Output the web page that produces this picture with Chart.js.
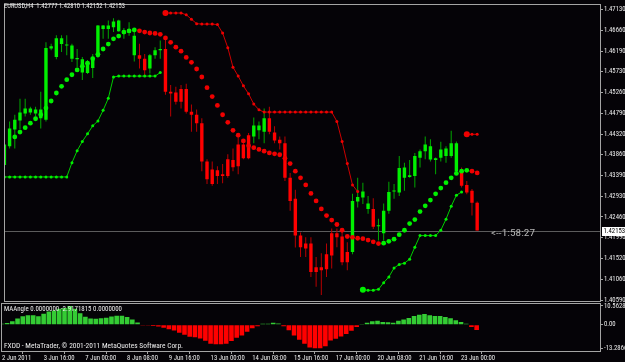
<!DOCTYPE html>
<html><head><meta charset="utf-8">
<script src="https://cdn.jsdelivr.net/npm/chart.js@4.4.1/dist/chart.umd.min.js"></script>
<style>
html,body{margin:0;padding:0;background:#050307;width:625px;height:362px;overflow:hidden;}
#w1{position:absolute;left:0;top:0;width:625px;height:306px;}
#w2{position:absolute;left:0;top:302px;width:625px;height:60px;}
</style></head><body>
<div id="w1"><canvas id="c1"></canvas></div>
<div id="w2"><canvas id="c2"></canvas></div>
<script>
const N = null;
// ---- EURUSD H4 candles (bar 0 = 2 Jun 2011 08:00, bar 91 = 23 Jun 2011 12:00) ----
const opens = [
 1.4363,1.4405,1.4443,1.4463,1.4479,1.4481,1.4479,1.4468,1.4465,1.4625,
 1.4606,1.4635,1.4632,1.4602,1.4601,1.4571,1.4570,1.4581,1.4606,1.4669,
 1.4669,1.4673,1.4664,1.4658,1.4660,1.4610,1.4610,1.4602,1.4580,1.4610,
 1.4621,1.4624,1.4528,1.4526,1.4534,1.4534,1.4483,1.4476,1.4457,1.4371,
 1.4353,1.4351,1.4342,1.4376,1.4374,1.4409,1.4409,1.4430,1.4427,1.4441,
 1.4438,1.4468,1.4436,1.4420,1.4412,1.4334,1.4287,1.4204,1.4186,1.4186,
 1.4133,1.4133,1.4162,1.4209,1.4209,1.4202,1.4167,1.4167,1.4281,1.4290,
 1.4264,1.4264,1.4225,1.4209,1.4260,1.4303,1.4301,1.4334,1.4336,1.4338,
 1.4379,1.4394,1.4375,1.4374,1.4379,1.4383,1.4383,1.4349,1.4349,1.4318,
 1.4305,1.42777];
const highs = [
 1.4414,1.4461,1.4476,1.4512,1.4512,1.4494,1.4494,1.4528,1.4639,1.4636,
 1.4655,1.4655,1.4655,1.4636,1.4624,1.4606,1.4599,1.4613,1.4678,1.4678,
 1.4688,1.4693,1.4690,1.4671,1.4684,1.4669,1.4636,1.4613,1.4613,1.4628,
 1.4643,1.4648,1.4543,1.4539,1.4543,1.4546,1.4499,1.4488,1.4468,1.4376,
 1.4371,1.4360,1.4365,1.4387,1.4400,1.4427,1.4418,1.4435,1.4470,1.4461,
 1.4490,1.4494,1.4450,1.4427,1.4427,1.4345,1.4307,1.4211,1.4200,1.4200,
 1.4156,1.4164,1.4186,1.4220,1.4220,1.4220,1.4189,1.4298,1.4334,1.4323,
 1.4293,1.4288,1.4242,1.4276,1.4325,1.4320,1.4383,1.4368,1.4374,1.4390,
 1.4398,1.4427,1.4421,1.4380,1.4415,1.4405,1.4440,1.4416,1.4357,1.4327,
 1.4309,1.42810];
const lows = [
 1.4345,1.4400,1.4400,1.4443,1.4472,1.4476,1.4472,1.4445,1.4461,1.4621,
 1.4601,1.4617,1.4610,1.4595,1.4583,1.4554,1.4568,1.4559,1.4604,1.4647,
 1.4647,1.4662,1.4663,1.4647,1.4654,1.4596,1.4580,1.4565,1.4569,1.4602,
 1.4602,1.4521,1.4472,1.4499,1.4490,1.4479,1.4438,1.4438,1.4349,1.4320,
 1.4316,1.4320,1.4322,1.4334,1.4349,1.4342,1.4376,1.4376,1.4412,1.4421,
 1.4412,1.4432,1.4412,1.4398,1.4327,1.4260,1.4177,1.4156,1.4156,1.4111,
 1.4089,1.4070,1.4111,1.4130,1.4178,1.4137,1.4126,1.4162,1.4267,1.4275,
 1.4253,1.4219,1.4193,1.4193,1.4253,1.4287,1.4293,1.4305,1.4334,1.4312,
 1.4357,1.4376,1.4371,1.4342,1.4371,1.4368,1.4379,1.4345,1.4312,1.4297,
 1.4249,1.42152];
const closes = [
 1.4409,1.4445,1.4465,1.4481,1.4490,1.4490,1.4488,1.4488,1.4626,1.4630,
 1.4648,1.4648,1.4634,1.4632,1.4604,1.4601,1.4595,1.4604,1.4677,1.4677,
 1.4677,1.4686,1.4688,1.4665,1.4669,1.4654,1.4602,1.4576,1.4610,1.4621,
 1.4624,1.4528,1.4524,1.4505,1.4505,1.4483,1.4476,1.4457,1.4371,1.4331,
 1.4320,1.4338,1.4338,1.4338,1.4358,1.4360,1.4378,1.4378,1.4452,1.4452,
 1.4468,1.4438,1.4418,1.4412,1.4334,1.4282,1.4204,1.4178,1.4175,1.4122,
 1.4122,1.4126,1.4128,1.4159,1.4200,1.4144,1.4144,1.4282,1.4291,1.4303,
 1.4276,1.4224,1.4226,1.4260,1.4302,1.4305,1.4356,1.4357,1.4340,1.4383,
 1.4394,1.4409,1.4405,1.4378,1.4398,1.4400,1.4412,1.4412,1.4316,1.4301,
 1.4278,1.42153];

// ---- big-dot trailing indicator (green below price, red above) ----
const sarUp = [
 N,N,1.4426,1.4437,1.4447,1.4457,1.4467,1.4476,1.4491,1.4507,
 1.4525,1.4540,1.4555,1.4566,1.4577,1.4585,1.4592,1.4602,1.4612,1.4624,
 1.4635,1.4647,1.4653,1.4662,1.4665,1.4667,N,N,N,N,
 N,N,N,N,N,N,N,N,N,N,
 N,N,N,N,N,N,N,N,N,N,
 N,N,N,N,N,N,N,N,N,N,
 N,N,N,N,N,N,N,N,N,N,
 N,N,N,1.4187,1.4191,1.4196,1.4206,1.4216,1.4231,1.4240,
 1.4258,1.4271,1.4284,1.4298,1.4311,1.4323,1.4334,1.4344,1.4349,1.4351,
 N,N];
const sarDown = [
 N,N,N,N,N,N,N,N,N,N,
 N,N,N,N,N,N,N,N,N,N,
 N,N,N,N,N,N,1.4665,1.4662,1.4660,1.4659,
 1.4657,1.4649,1.4639,1.4628,1.4619,1.4605,1.4594,1.4579,1.4561,1.4537,
 1.4517,1.4497,1.4476,1.4459,1.4441,1.4430,1.4417,1.4406,1.4402,1.4398,
 1.4394,1.4390,1.4388,1.4386,1.4378,1.4366,1.4349,1.4334,1.4318,1.4299,
 1.4282,1.4264,1.4249,1.4239,1.4229,1.4216,1.4202,1.4200,1.4198,1.4197,
 1.4194,1.4190,1.4186,N,N,N,N,N,N,N,
 N,N,N,N,N,N,N,N,N,N,
 1.4349,1.4345];

// ---- stepped trailing stop with connecting line ----
const stopUp = [
 1.4336,1.4336,1.4336,1.4336,1.4336,1.4336,1.4336,1.4336,1.4336,1.4336,
 1.4336,1.4336,1.4336,1.4368,1.4395,1.4416,1.4433,1.4451,1.4462,1.4486,
 1.4513,1.4561,1.4563,1.4563,1.4563,1.4563,1.4563,1.4563,1.4563,1.4563,
 1.4571,N,N,N,N,N,N,N,N,N,
 N,N,N,N,N,N,N,N,N,N,
 N,N,N,N,N,N,N,N,N,N,
 N,N,N,N,N,N,N,N,N,1.4082,
 1.4081,1.4081,1.4083,1.4098,1.4111,1.4131,1.4139,1.4142,1.4151,1.4178,
 1.4204,1.4204,1.4204,1.4204,1.4216,1.4241,1.4270,1.4295,1.4302,N,
 N,N];
const stopDown = [
 N,N,N,N,N,N,N,N,N,N,
 N,N,N,N,N,N,N,N,N,N,
 N,N,N,N,N,N,N,N,N,N,
 N,1.4705,1.4705,1.4705,1.4705,1.4701,1.4691,1.4681,1.4680,1.4680,
 1.4680,1.4679,1.4660,1.4627,1.4583,1.4563,1.4541,1.4523,1.4500,1.4487,
 1.4482,1.4482,1.4482,1.4482,1.4482,1.4482,1.4482,1.4482,1.4482,1.4482,
 1.4482,1.4482,1.4482,1.4482,1.4461,1.4416,1.4366,1.4318,1.4303,N,
 N,N,N,N,N,N,N,N,N,N,
 N,N,N,N,N,N,N,N,N,1.4432,
 1.4432,1.4432];

// ---- MAAngle histogram ----
const maAngle = [
 0.5,1.0,2.0,3.5,4.8,5.3,5.3,4.8,6.2,7.4,
 8.0,9.0,9.5,10.5628,9.0,6.5,4.5,3.5,3.4,3.6,
 4.0,4.6,5.0,5.0,4.4,3.0,1.2,-0.2,-0.5,-0.7,
 -1.0,-1.7,-2.5,-3.3,-4.5,-5.7,-6.8,-7.0,-7.8,-9.0,
 -10.7,-11.0,-11.0,-10.7,-9.2,-7.4,-6.1,-4.0,-2.0,-0.9,
 0.5,0.5,1.1,0.7,-0.9,-3.1,-6.1,-8.5,-10.7,-12.8,
 -13.2866,-13.2,-12.1,-8.9,-7.9,-6.7,-5.2,-3.4,-1.3,0.2,
 1.1,2.0,2.3,1.6,1.4,1.1,2.3,2.9,3.8,4.9,
 5.6,6.1,5.4,4.9,4.9,4.3,3.6,2.5,1.6,0.5,
 -1.3,-2.9171815];

// ---- axes ----
const priceTicks = [1.47130,1.46660,1.46190,1.45730,1.45260,1.44790,1.44320,1.43860,1.43390,1.42930,1.42460,1.41990,1.41520,1.41060,1.40590];
const dateTickBars = [0,8,16,24,32,40,48,56,64,72,80,88];
const dateTickLabels = ["2 Jun 2011","3 Jun 16:00","7 Jun 00:00","8 Jun 08:00","9 Jun 16:00","13 Jun 00:00","14 Jun 08:00","15 Jun 16:00","17 Jun 00:00","20 Jun 08:00","21 Jun 16:00","23 Jun 00:00"];
const angleTicks = [10.5628, 0, -13.2866];
const angleTickLabels = ["10.5628","0.00","-13.2866"];
const lastPrice = 1.42153;
const titleText = "EURUSD,H4  1.42777 1.42810 1.42152 1.42153";
const indText = "MAAngle 0.0000000 -2.9171815 0.0000000";
const copyText = "FXDD - MetaTrader, \u00a9 2001-2011 MetaQuotes Software Corp.";
const timerText = "<--1:58:27";

// ---- layout constants ----
const X_MIN = -0.0767, X_MAX = 114.834;
const P_MIN = 1.405565, P_MAX = 1.472529;
const A_MIN = -15.37, A_MAX = 11.97;
const FONT = "'Roboto Condensed', 'DejaVu Sans Condensed', sans-serif";
const TXT = '#ececec', FRAME = '#a4a4a4';

function sq(ctx, str, x, y, size, color, width) {
  ctx.save();
  ctx.font = size + "px " + FONT;
  ctx.fillStyle = color; ctx.textBaseline = 'middle'; ctx.textAlign = 'left';
  const w = ctx.measureText(str).width;
  ctx.translate(x, y); ctx.scale(width ? width / w : 1, 1);
  ctx.fillText(str, 0, 0);
  ctx.restore();
}
function frame(ctx, a) {
  const x0 = Math.floor(a.left) + 0.5, x1 = Math.ceil(a.right) - 0.5;
  const y0 = Math.floor(a.top) + 0.5, y1 = Math.ceil(a.bottom) - 0.5;
  ctx.save(); ctx.strokeStyle = FRAME; ctx.lineWidth = 1;
  ctx.strokeRect(x0, y0, x1 - x0, y1 - y0); ctx.restore();
}

const up = i => closes[i] >= opens[i];
const bars = opens.map((o, i) => i);

const mainDecor = {
  id: 'mainDecor',
  beforeDatasetsDraw(chart) {
    const {ctx, chartArea: a, scales: {y}} = chart;
    const py = Math.round(y.getPixelForValue(lastPrice)) + 0.5;
    ctx.save(); ctx.strokeStyle = '#5c5c5c'; ctx.lineWidth = 1;
    ctx.beginPath(); ctx.moveTo(a.left, py); ctx.lineTo(a.right, py); ctx.stroke(); ctx.restore();
  },
  afterDraw(chart) {
    const {ctx, chartArea: a, scales: {y}} = chart;
    frame(ctx, a);
    const py = Math.round(y.getPixelForValue(lastPrice));
    ctx.save();
    ctx.fillStyle = '#ffffff'; ctx.fillRect(602, py - 4, 23, 9);
    ctx.restore();
    sq(ctx, lastPrice.toFixed(5), 603.5, py + 0.5, 6.7, '#000000', 0);
    sq(ctx, titleText, 4, 6.5, 7.3, TXT, 121);
    sq(ctx, timerText, 491, 233.5, 8.5, '#b4b4b4', 44);
  }
};
const indDecor = {
  id: 'indDecor',
  afterDraw(chart) {
    const {ctx, chartArea: a} = chart;
    frame(ctx, a);
    sq(ctx, indText, 4, 7.5, 7.3, TXT, 118);
    sq(ctx, copyText, 4, 43.8, 7.3, TXT, 179);
  }
};

const tickFont = {family: FONT, size: 6.7};

new Chart(document.getElementById('c1'), {
  type: 'bar',
  data: {
    datasets: [
      { type: 'line', order: 0, showLine: false, pointStyle: 'circle',
        data: bars.filter(i => sarUp[i] != null).map(i => ({x: i, y: sarUp[i]})),
        pointRadius: 2.4, pointBorderWidth: 0, pointBackgroundColor: '#00f000', borderWidth: 0 },
      { type: 'line', order: 0, showLine: false, pointStyle: 'circle',
        data: bars.filter(i => sarDown[i] != null).map(i => ({x: i, y: sarDown[i]})),
        pointRadius: 2.4, pointBorderWidth: 0, pointBackgroundColor: '#f00000', borderWidth: 0 },
      { type: 'line', order: 1, spanGaps: false,
        data: bars.map(i => ({x: i, y: stopUp[i]})),
        borderColor: '#00cc00', borderWidth: 1, pointBorderWidth: 0, pointBackgroundColor: '#00f000',
        pointRadius: c => (c.dataIndex > 0 && stopUp[c.dataIndex - 1] == null) ? 3 : 1.5 },
      { type: 'line', order: 1, spanGaps: false,
        data: bars.map(i => ({x: i, y: stopDown[i]})),
        borderColor: '#cc0000', borderWidth: 1, pointBorderWidth: 0, pointBackgroundColor: '#f00000',
        pointRadius: c => (c.dataIndex > 0 && stopDown[c.dataIndex - 1] == null) ? 3 : 1.5 },
      { type: 'bar', order: 2, grouped: false, barThickness: 3.4, minBarLength: 1, inflateAmount: 0,
        data: bars.map(i => ({x: i, y: [opens[i], closes[i]]})),
        backgroundColor: bars.map(i => up(i) ? '#00f000' : '#ff0000') },
      { type: 'bar', order: 3, grouped: false, barThickness: 1, inflateAmount: 0,
        data: bars.map(i => ({x: i, y: [lows[i], highs[i]]})),
        backgroundColor: bars.map(i => up(i) ? '#00a800' : '#b80000') }
    ]
  },
  options: {
    responsive: true, maintainAspectRatio: false, animation: false, devicePixelRatio: 1,
    layout: {padding: {left: 1.5, top: 1.5, right: 0, bottom: 4.5}},
    plugins: {legend: {display: false}, tooltip: {enabled: false}},
    scales: {
      x: {type: 'linear', offset: false, min: X_MIN, max: X_MAX, display: false},
      y: {type: 'linear', position: 'right', min: P_MIN, max: P_MAX,
          afterBuildTicks: s => { s.ticks = priceTicks.map(v => ({value: v})); },
          afterFit: s => { s.width = 24; s.paddingTop = 0; s.paddingBottom = 0; },
          ticks: {color: TXT, font: tickFont, padding: 1, autoSkip: false, maxRotation: 0,
                  callback: v => v.toFixed(5)},
          grid: {drawOnChartArea: false, drawTicks: true, tickLength: 2, color: FRAME},
          border: {display: false}}
    }
  },
  plugins: [mainDecor]
});

new Chart(document.getElementById('c2'), {
  type: 'bar',
  data: {
    datasets: [
      { type: 'bar', grouped: false, barThickness: 4.6, inflateAmount: 0,
        data: bars.map(i => ({x: i, y: maAngle[i]})),
        backgroundColor: bars.map(i => maAngle[i] >= 0 ? '#34cc34' : '#ff0000') }
    ]
  },
  options: {
    responsive: true, maintainAspectRatio: false, animation: false, devicePixelRatio: 1,
    layout: {padding: {left: 1.5, top: 1.5, right: 0, bottom: 0}},
    plugins: {legend: {display: false}, tooltip: {enabled: false}},
    scales: {
      x: {type: 'linear', offset: false, min: X_MIN, max: X_MAX, position: 'bottom',
          afterBuildTicks: s => { s.ticks = dateTickBars.map(v => ({value: v})); },
          afterFit: s => { s.height = 10; s.paddingLeft = 0; s.paddingRight = 0; },
          ticks: {align: 'start', color: TXT, font: tickFont, padding: 0, autoSkip: false, maxRotation: 0,
                  callback: (v, i) => dateTickLabels[i]},
          grid: {drawOnChartArea: false, drawTicks: true, tickLength: 2, color: FRAME},
          border: {display: false}},
      y: {type: 'linear', position: 'right', min: A_MIN, max: A_MAX,
          afterBuildTicks: s => { s.ticks = angleTicks.map(v => ({value: v})); },
          afterFit: s => { s.width = 24; s.paddingTop = 0; s.paddingBottom = 0; },
          ticks: {color: TXT, font: tickFont, padding: 1, autoSkip: false, maxRotation: 0,
                  callback: (v, i) => angleTickLabels[i]},
          grid: {drawOnChartArea: false, drawTicks: true, tickLength: 2, color: FRAME},
          border: {display: false}}
    }
  },
  plugins: [indDecor]
});
</script>
</body></html>
